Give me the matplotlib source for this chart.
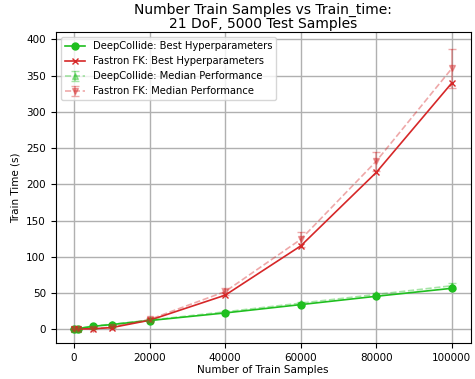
import matplotlib
matplotlib.use('Agg')
import matplotlib.pyplot as plt

train_samples = [100, 1000, 5000, 10000, 20000, 40000, 60000, 80000, 100000]

deepcollide_best = [0.3, 0.8, 4.0, 6.5, 12.0, 22.5, 34.0, 45.5, 56.5]
fastron_best = [0.2, 0.4, 0.6, 2.3, 12.4, 47.0, 115.0, 216.5, 340.0]

deepcollide_median = [0.5, 1.0, 4.5, 7.0, 12.5, 24.0, 36.0, 48.0, 60.0]
deepcollide_median_err = [0.2, 0.3, 0.5, 0.8, 1.0, 1.5, 2.0, 2.5, 4.0]
fastron_median = [0.3, 0.6, 0.8, 3.0, 13.5, 52.0, 124.0, 232.0, 360.0]
fastron_median_err = [0.2, 0.3, 0.5, 1.0, 2.0, 5.0, 10.0, 13.0, 27.0]

green = '#1fbf1f'
red = '#d62728'

fig, ax = plt.subplots(figsize=(4.75, 3.79), dpi=100)

ax.plot(train_samples, deepcollide_best, color=green, marker='o', markersize=5,
        linewidth=1.2, label='DeepCollide: Best Hyperparameters')
ax.plot(train_samples, fastron_best, color=red, marker='x', markersize=5,
        linewidth=1.2, label='Fastron FK: Best Hyperparameters')
ax.errorbar(train_samples, deepcollide_median, yerr=deepcollide_median_err, color=green,
            marker='^', markersize=5, linewidth=1.2, linestyle='--', alpha=0.4, capsize=3,
            label='DeepCollide: Median Performance')
ax.errorbar(train_samples, fastron_median, yerr=fastron_median_err, color=red,
            marker='v', markersize=5, linewidth=1.2, linestyle='--', alpha=0.4, capsize=3,
            label='Fastron FK: Median Performance')

ax.set_title('Number Train Samples vs Train_time:\n21 DoF, 5000 Test Samples',
             fontsize=10, pad=3, linespacing=1.0)
ax.set_xlabel('Number of Train Samples', fontsize=7.5, labelpad=2)
ax.set_ylabel('Train Time (s)', fontsize=7.5)
ax.tick_params(labelsize=7.5)
ax.set_xticks([0, 20000, 40000, 60000, 80000, 100000])
ax.set_ylim(-19, 410)
ax.grid(True, color='#b0b0b0', linewidth=1)
ax.legend(loc='upper left', fontsize=7.2)

fig.subplots_adjust(left=0.117, right=0.991, top=0.915, bottom=0.095)
fig.savefig('out.png', dpi=100)
